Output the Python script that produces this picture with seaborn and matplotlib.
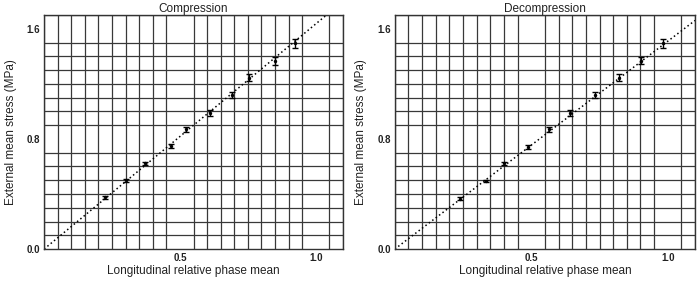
import matplotlib
matplotlib.use("Agg")
import matplotlib.pyplot as plt
import seaborn as sns
import numpy as np
import pandas as pd

# Compression data
comp_phase = [0.224, 0.301, 0.371, 0.467, 0.521, 0.610, 0.690, 0.755, 0.849, 0.925]
comp_stress = [0.375, 0.499, 0.622, 0.747, 0.870, 0.989, 1.117, 1.246, 1.367, 1.494]
comp_err = [0.008, 0.010, 0.012, 0.015, 0.018, 0.020, 0.022, 0.025, 0.027, 0.031]
comp_slope = 1.636

# Decompression data
dec_phase = [0.240, 0.333, 0.400, 0.489, 0.564, 0.643, 0.733, 0.821, 0.901, 0.982]
dec_stress = [0.367, 0.495, 0.622, 0.742, 0.870, 0.989, 1.117, 1.246, 1.367, 1.494]
dec_err = [0.008, 0.010, 0.012, 0.014, 0.017, 0.019, 0.022, 0.024, 0.026, 0.030]
dec_slope = 1.51

titles = ["Compression", "Decompression"]

sns.set_style("white")
plt.rcParams['font.family'] = ['Liberation Sans', 'DejaVu Sans']

fig = plt.figure(figsize=(7, 2.84), dpi=100)
ax1 = fig.add_axes([0.063, 0.123, 0.427, 0.824])
ax2 = fig.add_axes([0.564, 0.123, 0.429, 0.824])

panels = [
    (ax1, comp_phase, comp_stress, comp_err, comp_slope, titles[0]),
    (ax2, dec_phase, dec_stress, dec_err, dec_slope, titles[1]),
]

for ax, xs, ys, errs, slope, title in panels:
    df = pd.DataFrame({"phase": xs, "stress": ys, "err": errs})
    ax.set_xlim(0, 1.1)
    ax.set_ylim(0, 1.7)
    ax.set_xticks(np.arange(0, 1.1001, 0.05), minor=True)
    ax.set_yticks(np.arange(0, 1.7001, 0.1), minor=True)
    ax.grid(which="minor", color="#383838", linewidth=0.9)
    ax.set_axisbelow(True)
    ax.axline((0, 0), slope=slope, color="black", linestyle=(0, (1.0, 1.8)),
              linewidth=1.1, zorder=2)
    ax.errorbar(df["phase"], df["stress"], yerr=df["err"], fmt="none",
                ecolor="black", elinewidth=1.0, capsize=2.2, capthick=1.0, zorder=3)
    sns.scatterplot(data=df, x="phase", y="stress", ax=ax, color="black",
                    s=6, linewidth=0, zorder=4)
    ax.set_xticks([0.5, 1.0])
    ax.set_yticks([0.0, 0.8, 1.6])
    ax.set_xticklabels(["0.5", "1.0"], fontsize=7, fontweight="bold", color="#222222")
    ax.set_yticklabels(["0.0", "0.8", "1.6"], fontsize=7, fontweight="bold", color="#222222")
    ax.tick_params(length=0, pad=3)
    ax.set_xlabel("Longitudinal relative phase mean", fontsize=8.5, labelpad=1, color="#222222")
    ax.set_ylabel("External mean stress (MPa)", fontsize=8.5, labelpad=7, color="#222222")
    ax.set_title(title, fontsize=8.5, pad=2, color="#222222")
    for sp in ax.spines.values():
        sp.set_color("#333333")
        sp.set_linewidth(1.0)

fig.savefig("out.png", dpi=100, facecolor="white")
